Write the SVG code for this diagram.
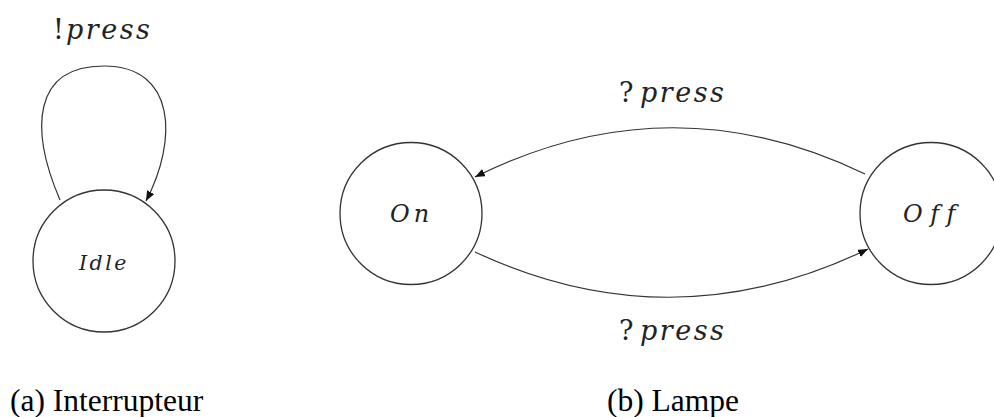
<svg xmlns="http://www.w3.org/2000/svg" width="994" height="417" viewBox="0 0 994 417">
<style>
.node{fill:#fff;stroke:#333;stroke-width:1.3}
.edge{fill:none;stroke:#333;stroke-width:1.2}
.lbl{font-family:"DejaVu Serif",serif;font-size:27px;fill:#222}
.it{font-style:italic;letter-spacing:2.5px}
.nl{font-family:"DejaVu Serif",serif;font-style:italic;fill:#222}
.cap{font-family:"Liberation Serif",serif;font-size:31.5px;fill:#000}
</style>
<defs>
<marker id="ah" viewBox="0 0 10 8" refX="10" refY="4" markerWidth="10" markerHeight="8" markerUnits="userSpaceOnUse" orient="auto">
<path d="M0,0 L10,4 L0,8 Z" fill="#111"/>
</marker>
</defs>
<g id="connectors">
<path class="edge" d="M 60 200 C 30 130, 32 66, 104 66 C 176 66, 178 140, 146 201" marker-end="url(#ah)"/>
<path class="edge" d="M 865 174 Q 670 80 475 177" marker-end="url(#ah)"/>
<path class="edge" d="M 475 252 Q 672 344 868 249" marker-end="url(#ah)"/>
</g>
<g id="idle">
<circle class="node" cx="104" cy="261" r="71"/>
<text class="nl" x="79" y="270" font-size="20.5" letter-spacing="2.5">Idle</text>
</g>
<g id="on">
<circle class="node" cx="411" cy="213.5" r="71"/>
<text class="nl" x="390" y="222" font-size="24" letter-spacing="4">On</text>
</g>
<g id="off">
<circle class="node" cx="931" cy="213.5" r="71"/>
<text class="nl" x="903" y="222" font-size="24" letter-spacing="7.5">Off</text>
</g>
<g id="labels">
<text class="lbl" x="53" y="39">!<tspan class="it" x="66">press</tspan></text>
<text class="lbl" x="619" y="102">?<tspan class="it" x="640">press</tspan></text>
<text class="lbl" x="619" y="340">?<tspan class="it" x="640">press</tspan></text>
<text class="cap" x="10" y="411">(a) Interrupteur</text>
<text class="cap" x="607" y="411">(b) Lampe</text>
</g>
</svg>
